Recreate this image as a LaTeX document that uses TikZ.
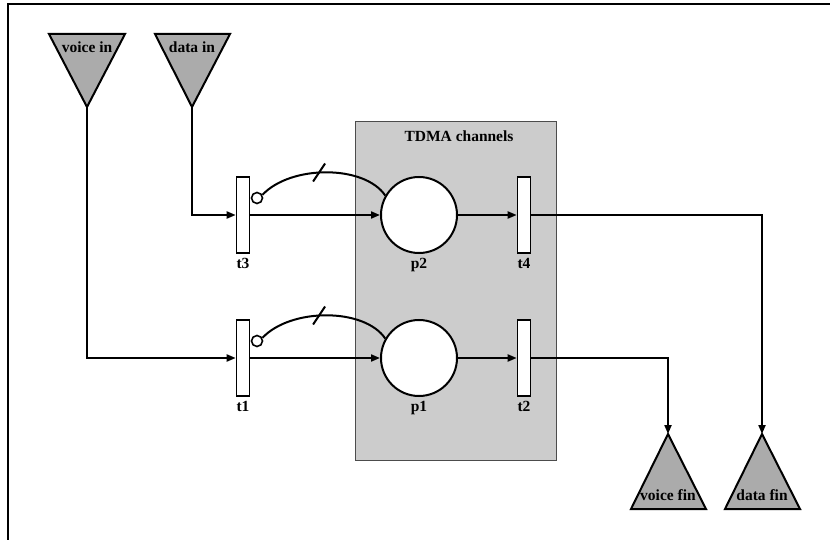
\documentclass[tikz,border=0pt]{standalone}
\usepackage{fontspec}
\setmainfont{Liberation Serif}
\usetikzlibrary{arrows.meta,positioning}
\definecolor{srcgray}{gray}{0.67}
\definecolor{boxgray}{gray}{0.8}

\begin{document}
\begin{tikzpicture}[x=1pt, y=-1pt,
    lbl/.style={font=\fontsize{15.5}{17}\selectfont\bfseries, inner sep=1pt},
    trans/.style={draw, fill=white, line width=1.6pt, minimum width=13pt, minimum height=76pt, inner sep=0pt},
    place/.style={draw, circle, fill=white, line width=2pt, minimum size=76pt, inner sep=0pt},
    inhib/.style={draw, circle, fill=white, line width=1.6pt, minimum size=11pt, inner sep=0pt},
    tri/.style={draw, line width=2pt, fill=srcgray, line join=miter},
    arc/.style={-{Triangle[length=9pt,width=7pt]}, line width=2pt},
    inarc/.style={line width=2pt}
]
\useasboundingbox (0,0) rectangle (830,540);
\draw[line width=2.2pt] (8,542) -- (8,4) -- (832,4);

% TDMA box
\draw[fill=boxgray, draw=black!70, line width=1pt] (355,122) rectangle (556,460);
\node[lbl] (tdma) at (459,136) {TDMA channels};

% sources and sinks
\draw[tri] (49,34) -- (125,34) -- (87,107) -- cycle;
\draw[tri] (155,34) -- (230,34) -- (192,107) -- cycle;
\draw[tri] (631,509) -- (706,509) -- (668,434) -- cycle;
\draw[tri] (725,509) -- (800,509) -- (762,434) -- cycle;
\node[lbl] (vinText) at (87,47) {voice in};
\node[lbl] (dinText) at (192,47) {data in};
\node[lbl] (vfinText) at (668,495) {voice fin};
\node[lbl] (dfinText) at (762,495) {data fin};
\coordinate (vin) at (87,107);
\coordinate (din) at (192,107);
\coordinate (vfin) at (668,434);
\coordinate (dfin) at (762,434);

% net
\node[trans] (t3) at (243,215) {};
\node[place] (p2) at (419,215) {};
\node[trans] (t4) at (524,215) {};
\node[trans] (t1) at (243,358) {};
\node[place] (p1) at (419,358) {};
\node[trans] (t2) at (524,358) {};
\node[lbl, below=3pt of t3] (t3Text) {t3};
\node[lbl, below=3pt of p2] (p2Text) {p2};
\node[lbl, below=3pt of t4] (t4Text) {t4};
\node[lbl, below=3pt of t1] (t1Text) {t1};
\node[lbl, below=3pt of p1] (p1Text) {p1};
\node[lbl, below=3pt of t2] (t2Text) {t2};

\draw[arc] (din) |- (t3);
\draw[arc] (t3) -- (p2);
\draw[arc] (p2) -- (t4);
\draw[arc] (t4) -| (dfin);
\draw[arc] (vin) |- (t1);
\draw[arc] (t1) -- (p1);
\draw[arc] (p1) -- (t2);
\draw[arc] (t2) -| (vfin);

% inhibitor arcs
\node[inhib] (i3) at (257,198) {};
\node[inhib] (i1) at (257,341) {};
\draw[inarc] (p2.150) .. controls +(-21,-31) and +(28,-30) .. (i3.30) coordinate[pos=0.55] (m3);
\draw[inarc] (p1.150) .. controls +(-21,-31) and +(28,-30) .. (i1.30) coordinate[pos=0.55] (m1);
\draw[inarc] ([shift={(-6,9)}]m3) -- ([shift={(6,-9)}]m3);
\draw[inarc] ([shift={(-6,9)}]m1) -- ([shift={(6,-9)}]m1);
\end{tikzpicture}
\end{document}
